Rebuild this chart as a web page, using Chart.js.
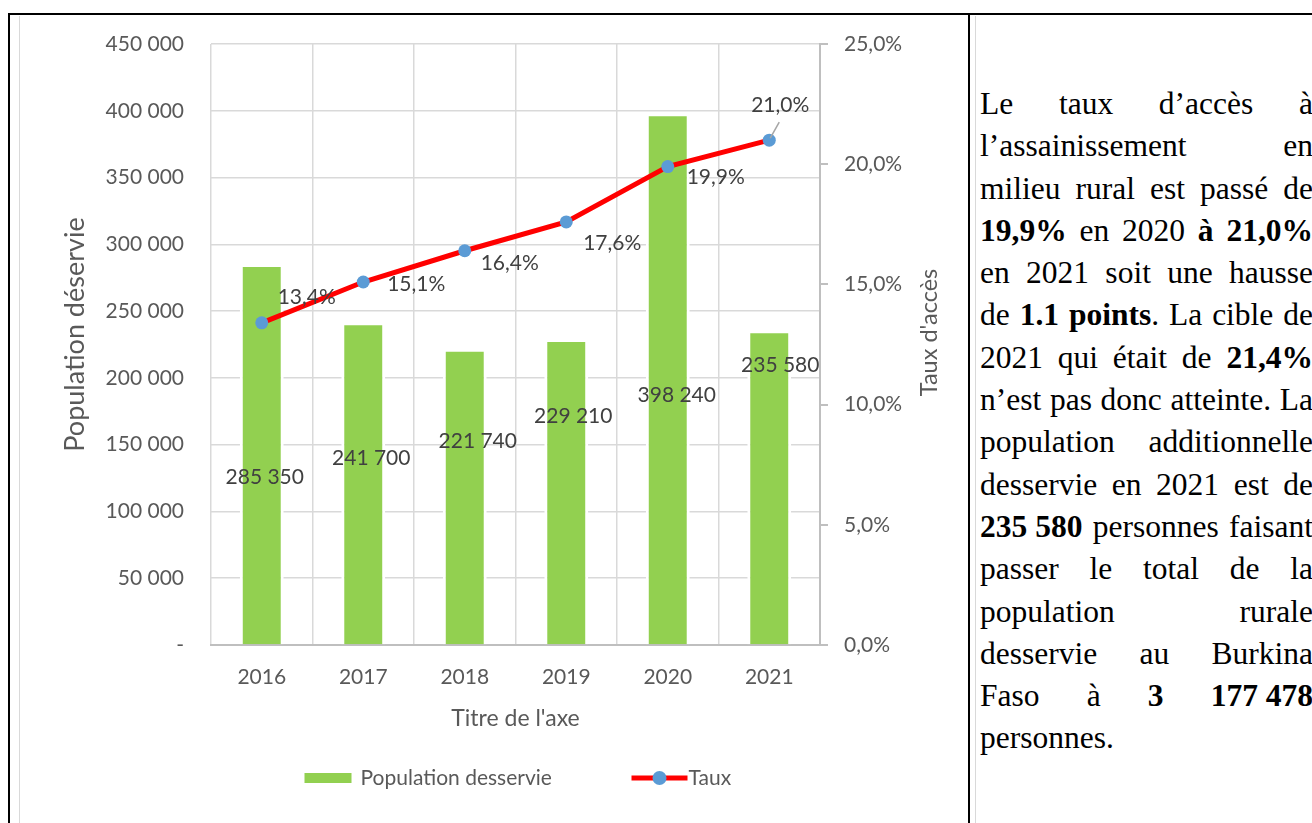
<!DOCTYPE html>
<html>
<head>
<meta charset="utf-8">
<script src="https://cdn.jsdelivr.net/npm/chart.js@4/dist/chart.umd.min.js"></script>
<style>
html,body{margin:0;padding:0;background:#fff;width:1312px;height:823px;overflow:hidden;}
#wrap{position:absolute;left:0;top:0;width:966px;height:823px;}
.bk{position:absolute;background:#000;}
.gr{position:absolute;background:#d9d9d9;}
#txt{position:absolute;left:980px;top:83px;width:333px;font-family:"Liberation Serif","Times New Roman",serif;font-size:31.5px;line-height:42.3px;color:#000;}
#txt div{text-align:justify;text-align-last:justify;white-space:normal;}
#txt div.last{text-align-last:left;}
#txt .ib{display:inline-block;}
</style>
</head>
<body>
<div id="wrap"><canvas id="c" width="966" height="823"></canvas></div>
<div class="bk" style="left:8px;top:13px;width:1304px;height:2px"></div>
<div class="bk" style="left:8px;top:13px;width:2px;height:810px"></div>
<div class="bk" style="left:968px;top:13px;width:2px;height:810px"></div>
<div class="gr" style="left:19px;top:16px;width:1px;height:807px"></div>
<div class="gr" style="left:975px;top:16px;width:1px;height:807px"></div>
<div id="txt">
<div>Le taux d’accès à</div>
<div>l’assainissement en</div>
<div>milieu rural est passé de</div>
<div><b>19,9%</b> en 2020 <b>à 21,0%</b></div>
<div>en 2021 soit une hausse</div>
<div>de <b>1.1 points</b>. La cible de</div>
<div>2021 qui était de <b>21,4%</b></div>
<div>n’est pas donc atteinte. La</div>
<div>population additionnelle</div>
<div>desservie en 2021 est de</div>
<div><b class="ib">235 580</b> personnes faisant</div>
<div>passer le total de la</div>
<div>population rurale</div>
<div>desservie au Burkina</div>
<div>Faso à <b>3 <span class="ib">177 478</span></b></div>
<div class="last">personnes.</div>
</div>
<script>
// ---- data ----
const years = ['2016', '2017', '2018', '2019', '2020', '2021'];
const population = [285350, 241700, 221740, 229210, 398240, 235580];
const taux = [13.4, 15.1, 16.4, 17.6, 19.9, 21.0];
const popLabels = ['285 350', '241 700', '221 740', '229 210', '398 240', '235 580'];
const tauxLabels = ['13,4%', '15,1%', '16,4%', '17,6%', '19,9%', '21,0%'];
const leftTicks = ['-', '50 000', '100 000', '150 000', '200 000', '250 000', '300 000', '350 000', '400 000', '450 000'];
const rightTicks = ['0,0%', '5,0%', '10,0%', '15,0%', '20,0%', '25,0%'];
const seriesNames = ['Population desservie', 'Taux'];
const axisTitles = {x: "Titre de l'axe", y: 'Population déservie', y2: "Taux d'accès"};

// ---- label placement (pixel offsets from each mark) ----
const popLabelOffsets = [[3, 213], [8, 136], [13, 92], [7, 77], [9, 282], [11, 35]];
const tauxLabelOffsets = [[45, -26], [53, 2], [45, 12], [46, 21], [48, 11], [11, -35]];

const FONT = 'Lato';
const TICK = '#595959';
const LBL = '#404040';
const GREEN = '#92D050';
const RED = '#FF0000';
const BLUE = '#5B9BD5';

const overlay = {
  id: 'overlay',
  afterDatasetsDraw(chart) {
    const ctx = chart.ctx;
    const barMeta = chart.getDatasetMeta(0);
    const lineMeta = chart.getDatasetMeta(1);
    ctx.save();
    ctx.font = '21px ' + FONT;
    ctx.fillStyle = LBL;
    ctx.textAlign = 'center';
    ctx.textBaseline = 'middle';
    barMeta.data.forEach((el, i) => {
      const o = popLabelOffsets[i];
      ctx.fillText(popLabels[i], el.x + o[0], el.y + o[1]);
    });
    // leader line for the last point label
    const last = lineMeta.data[lineMeta.data.length - 1];
    ctx.strokeStyle = '#a6a6a6';
    ctx.lineWidth = 1.5;
    ctx.beginPath();
    ctx.moveTo(last.x + 1, last.y - 2);
    ctx.lineTo(last.x + 10, last.y - 18);
    ctx.stroke();
    lineMeta.data.forEach((el, i) => {
      const o = tauxLabelOffsets[i];
      ctx.fillText(tauxLabels[i], el.x + o[0], el.y + o[1]);
    });
    ctx.restore();
  },
  afterDraw(chart) {
    const ctx = chart.ctx;
    const a = chart.chartArea;
    ctx.save();
    ctx.fillStyle = TICK;
    ctx.textAlign = 'center';
    ctx.textBaseline = 'middle';
    // left axis title
    ctx.font = '27px ' + FONT;
    ctx.save();
    ctx.translate(75, (a.top + a.bottom) / 2 - 10);
    ctx.rotate(-Math.PI / 2);
    ctx.fillText(axisTitles.y, 0, 0);
    ctx.restore();
    // right axis title
    ctx.font = '23.5px ' + FONT;
    ctx.save();
    ctx.translate(a.right + 109, (a.top + a.bottom) / 2 - 12);
    ctx.rotate(-Math.PI / 2);
    ctx.fillText(axisTitles.y2, 0, 0);
    ctx.restore();
    // legend
    const ly = 778;
    const cx = (a.left + a.right) / 2;
    const ds = chart.data.datasets;
    ctx.font = '21px ' + FONT;
    ctx.textAlign = 'left';
    ctx.fillStyle = ds[0].backgroundColor;
    ctx.fillRect(cx - 211, ly - 5, 47, 10);
    ctx.fillStyle = TICK;
    ctx.fillText(ds[0].label, cx - 155, ly);
    ctx.strokeStyle = ds[1].borderColor;
    ctx.lineWidth = 5;
    ctx.beginPath();
    ctx.moveTo(cx + 116, ly);
    ctx.lineTo(cx + 172, ly);
    ctx.stroke();
    ctx.fillStyle = ds[1].pointBackgroundColor;
    ctx.beginPath();
    ctx.arc(cx + 144, ly, 7, 0, Math.PI * 2);
    ctx.fill();
    ctx.fillStyle = TICK;
    ctx.fillText(ds[1].label, cx + 173, ly);
    ctx.restore();
  }
};

new Chart(document.getElementById('c'), {
  type: 'bar',
  data: {
    labels: years,
    datasets: [
      {
        type: 'bar',
        label: seriesNames[0],
        data: population,
        yAxisID: 'y',
        backgroundColor: GREEN,
        borderColor: '#ffffff',
        borderWidth: 3,
        barPercentage: 0.433,
        categoryPercentage: 1,
        order: 2
      },
      {
        type: 'line',
        label: seriesNames[1],
        data: taux,
        yAxisID: 'y2',
        borderColor: RED,
        borderWidth: 5,
        pointRadius: 6.5,
        pointBorderWidth: 0,
        pointBackgroundColor: BLUE,
        pointBorderColor: BLUE,
        tension: 0,
        order: 1
      }
    ]
  },
  options: {
    responsive: false,
    animation: false,
    events: [],
    layout: {padding: {left: 20, right: 16, top: 44, bottom: 78}},
    plugins: {legend: {display: false}, tooltip: {enabled: false}},
    scales: {
      x: {
        grid: {offset: true, color: '#d9d9d9', lineWidth: 1.5, drawTicks: false},
        border: {display: true, color: '#bfbfbf', width: 2},
        ticks: {color: TICK, font: {family: FONT, size: 21}, padding: 20, maxRotation: 0},
        title: {display: true, text: axisTitles.x, color: TICK, font: {family: FONT, size: 23}, padding: {top: 0, bottom: 13}},
        afterFit(s) { s.height = 100; }
      },
      y: {
        position: 'left',
        min: 0, max: 450000,
        ticks: {stepSize: 50000, color: TICK, font: {family: FONT, size: 21}, padding: 27,
          callback: (v, i) => leftTicks[i]},
        grid: {color: '#d9d9d9', lineWidth: 1.5, drawTicks: false},
        border: {display: false},
        afterFit(s) { s.width = 191; }
      },
      y2: {
        position: 'right',
        min: 0, max: 25,
        ticks: {stepSize: 5, color: TICK, font: {family: FONT, size: 21}, padding: 16,
          callback: (v, i) => rightTicks[i]},
        grid: {drawOnChartArea: false, drawTicks: true, tickLength: 8, color: '#bfbfbf', lineWidth: 2},
        border: {display: true, color: '#bfbfbf', width: 2},
        afterFit(s) { s.width = 130; }
      }
    }
  },
  plugins: [overlay]
});
</script>
</body>
</html>
